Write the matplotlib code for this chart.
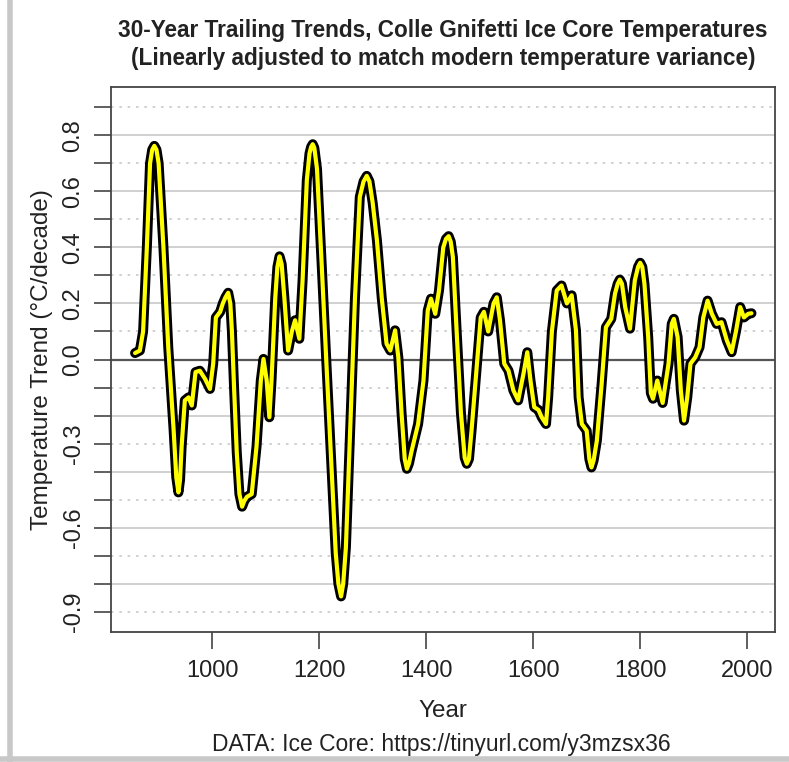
import matplotlib
matplotlib.use("Agg")
import matplotlib.pyplot as plt
from matplotlib.lines import Line2D

plt.rcParams['font.family'] = ['Liberation Sans', 'DejaVu Sans']

years = [856, 865, 871, 878, 884, 888, 892, 896, 900, 909, 918, 928, 933, 937, 940,
         943, 949, 956, 962, 969, 977, 987, 996, 1002, 1007, 1015, 1020, 1025, 1030,
         1034, 1037, 1041, 1046, 1051, 1056, 1060, 1065, 1074, 1083, 1091, 1096,
         1102, 1107, 1111, 1118, 1122, 1126, 1130, 1135, 1142, 1149, 1155, 1163,
         1169, 1177, 1182, 1185, 1188, 1191, 1196, 1205, 1214, 1223, 1231, 1236,
         1241, 1245, 1250, 1258, 1267, 1276, 1283, 1289, 1294, 1300, 1308, 1317,
         1326, 1333, 1342, 1348, 1354, 1360, 1364, 1368, 1373, 1385, 1395, 1403,
         1409, 1417, 1424, 1432, 1437, 1442, 1446, 1450, 1457, 1465, 1472, 1476,
         1480, 1485, 1495, 1502, 1508, 1516, 1526, 1532, 1538, 1546, 1554, 1563,
         1572, 1582, 1589, 1595, 1602, 1610, 1616, 1624, 1628, 1635, 1644, 1653,
         1663, 1672, 1680, 1685, 1691, 1700, 1705, 1709, 1713, 1719, 1728, 1736,
         1746, 1753, 1758, 1762, 1766, 1772, 1781, 1790, 1796, 1800, 1804, 1808,
         1815, 1820, 1824, 1832, 1842, 1853, 1859, 1863, 1870, 1876, 1882, 1888,
         1894, 1903, 1911, 1918, 1926, 1934, 1943, 1952, 1962, 1971, 1979, 1987,
         1994, 2002, 2008]
trend = [0.023, 0.032, 0.10, 0.40, 0.70, 0.748, 0.762, 0.748, 0.70, 0.40, 0.044,
         -0.25, -0.42, -0.474, -0.43, -0.31, -0.146, -0.135, -0.164, -0.045, -0.04,
         -0.07, -0.105, -0.015, 0.15, 0.17, 0.20, 0.222, 0.238, 0.20, 0.10, -0.10,
         -0.33, -0.48, -0.525, -0.505, -0.49, -0.48, -0.31, -0.075, 0.002, -0.075,
         -0.206, -0.075, 0.22, 0.33, 0.368, 0.34, 0.22, 0.032, 0.10, 0.14, 0.074,
         0.28, 0.64, 0.735, 0.758, 0.768, 0.755, 0.68, 0.33, -0.03, -0.38, -0.69,
         -0.80, -0.845, -0.80, -0.67, -0.25, 0.22, 0.58, 0.635, 0.655, 0.635, 0.56,
         0.425, 0.22, 0.056, 0.032, 0.104, 0.008, -0.19, -0.355, -0.39, -0.37,
         -0.325, -0.23, -0.075, 0.175, 0.217, 0.163, 0.246, 0.40, 0.43, 0.44, 0.42,
         0.365, 0.10, -0.19, -0.35, -0.372, -0.355, -0.25, -0.015, 0.15, 0.17, 0.10,
         0.20, 0.222, 0.14, -0.015, -0.04, -0.11, -0.146, -0.05, 0.026, -0.075,
         -0.17, -0.18, -0.206, -0.23, -0.135, 0.10, 0.246, 0.264, 0.20, 0.229,
         0.104, -0.135, -0.23, -0.254, -0.355, -0.385, -0.36, -0.29, -0.087, 0.115,
         0.145, 0.235, 0.27, 0.285, 0.27, 0.187, 0.11, 0.282, 0.33, 0.345, 0.33,
         0.27, 0.08, -0.12, -0.14, -0.075, -0.155, -0.015, 0.127, 0.145, 0.08,
         -0.11, -0.218, -0.135, -0.015, 0.008, 0.044, 0.15, 0.21, 0.163, 0.127,
         0.133, 0.068, 0.026, 0.10, 0.187, 0.15, 0.163, 0.165]

x_ticks = [1000, 1200, 1400, 1600, 1800, 2000]
y_ticks = [-0.9, -0.8, -0.7, -0.6, -0.5, -0.4, -0.3, -0.2, -0.1, 0.0,
           0.1, 0.2, 0.3, 0.4, 0.5, 0.6, 0.7, 0.8, 0.9]
y_labels = {0.8: "0.8", 0.6: "0.6", 0.4: "0.4", 0.2: "0.2", 0.0: "0.0",
            -0.3: "-0.3", -0.6: "-0.6", -0.9: "-0.9"}
solid_grid = [-0.8, -0.6, -0.4, -0.2, 0.2, 0.4, 0.6, 0.8]
dotted_grid = [-0.9, -0.7, -0.5, -0.3, -0.1, 0.1, 0.3, 0.5, 0.7, 0.9]

W, H = 789, 762
fig = plt.figure(figsize=(W / 100, H / 100), dpi=100)
ax = fig.add_axes([111 / W, 1 - 632 / H, (775 - 111) / W, (632 - 87) / H])

for g in solid_grid:
    ax.axhline(g, color="#c8c8c8", lw=1.2, zorder=1)
for g in dotted_grid:
    ax.axhline(g, color="#c8c8c8", lw=1.2, ls=(0, (1.5, 3.5)), zorder=1)
ax.axhline(0.0, color="#555555", lw=1.6, zorder=2)

ax.plot(years, trend, color="black", lw=7.2, solid_joinstyle="round",
        solid_capstyle="round", zorder=3)
ax.plot(years, trend, color="#ffff00", lw=3.0, solid_joinstyle="round",
        solid_capstyle="round", zorder=4)

ax.set_xlim(811, 2052)
ax.set_ylim(-0.972, 0.972)

ax.set_xticks(x_ticks)
ax.set_xticklabels([str(v) for v in x_ticks])
ax.set_yticks(y_ticks)
ax.set_yticklabels([y_labels.get(round(v, 1), "") for v in y_ticks],
                   rotation=90, va="center")

ax.tick_params(axis="both", direction="out", length=12, width=1.2,
               color="#444444", labelsize=17, labelcolor="#222222")
ax.tick_params(axis="x", pad=8)
ax.tick_params(axis="y", pad=7)

for s in ax.spines.values():
    s.set_color("#444444")
    s.set_linewidth(1.3)

ax.set_xlabel("Year", fontsize=17.5, color="#222222", labelpad=13)
ax.set_ylabel("Temperature Trend (\u00b0C/decade)", fontsize=17.5,
              color="#222222", labelpad=7)

fig.text(443 / W, 1 - 30 / H,
         "30-Year Trailing Trends, Colle Gnifetti Ice Core Temperatures",
         ha="center", va="center", fontsize=16.3, fontweight="bold", color="#222222")
fig.text(443 / W, 1 - 58 / H,
         "(Linearly adjusted to match modern temperature variance)",
         ha="center", va="center", fontsize=16.3, fontweight="bold", color="#222222")
fig.text(441 / W, 1 - 745 / H, "DATA: Ice Core: https://tinyurl.com/y3mzsx36",
         ha="center", va="center", fontsize=16.5, color="#222222")

# screenshot frame edges
fig.add_artist(Line2D([10 / W, 10 / W], [0, 1], color="#c8c8c8", lw=4,
                      transform=fig.transFigure))
fig.add_artist(Line2D([0, 1], [3 / H, 3 / H], color="#c8c8c8", lw=4,
                      transform=fig.transFigure))

fig.savefig("out.png", dpi=100)
